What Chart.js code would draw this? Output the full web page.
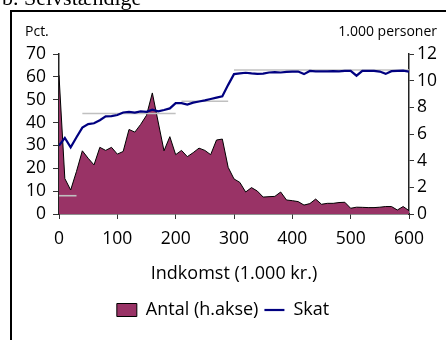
<!DOCTYPE html>
<html>
<head>
<meta charset="utf-8">
<script src="https://cdn.jsdelivr.net/npm/chart.js@4"></script>
<style>
  html, body { margin: 0; padding: 0; background: #fff; }
  #wrap { position: relative; width: 446px; height: 340px; overflow: hidden; }
  canvas { position: absolute; left: 0; top: 0; }
</style>
</head>
<body>
<div id="wrap"><canvas id="c" width="446" height="340"></canvas></div>
<script>
// ---- data ----
const incomes = [0,10,20,30,40,50,60,70,80,90,100,110,120,130,140,150,160,170,180,190,200,
  210,220,230,240,250,260,270,280,290,300,310,320,330,340,350,360,370,380,390,400,
  410,420,430,440,450,460,470,480,490,500,510,520,530,540,550,560,570,580,590,600];
const antal = [10.4,2.66,1.8,3.2,4.74,4.18,3.68,5.0,4.77,5.0,4.49,4.69,6.34,6.14,6.72,7.4,9.08,6.9,4.74,5.8,4.45,
  4.77,4.3,4.6,4.94,4.77,4.45,5.55,5.62,3.5,2.63,2.37,1.65,1.98,1.72,1.27,1.3,1.32,1.65,1.05,1.0,
  0.93,0.67,0.78,1.12,0.73,0.8,0.8,0.86,0.88,0.43,0.51,0.5,0.48,0.48,0.51,0.56,0.56,0.3,0.56,0.25];
const skat = [29.9,33.3,29.2,33.6,37.8,39.3,39.7,41.0,42.7,42.8,43.3,44.4,44.7,44.4,44.9,44.7,45.6,44.9,45.5,46.2,48.5,
  48.5,47.9,48.7,49.2,49.7,50.3,50.9,51.5,56.5,61.2,61.5,61.8,61.5,61.3,61.4,61.9,62.1,61.9,62.2,62.3,
  62.3,61.2,62.6,62.4,62.4,62.4,62.5,62.4,62.6,62.6,60.5,62.6,62.6,62.6,62.3,61.3,62.5,62.6,62.7,62.3];
// statutory rate segments (grey)
const bracketStart = [0, 40, 210, 300];
const bracketEnd   = [30, 200, 290, 600];
const bracketRate  = [8, 44, 49.3, 63];
const xTicks = [0,100,200,300,400,500,600];
const leftTicks = [0,10,20,30,40,50,60,70];
const rightTicks = [0,2,4,6,8,10,12];

const FONT = "'Open Sans', sans-serif";

const datasets = [
  {
    label: 'Antal (h.akse)',
    data: incomes.map((x, i) => ({x: x, y: antal[i]})),
    yAxisID: 'y1',
    fill: 'origin',
    backgroundColor: '#993366',
    borderColor: '#000000',
    borderWidth: 1,
    pointRadius: 0,
    pointStyle: 'rect',
    tension: 0,
    order: 3
  },
  {
    label: 'Skat',
    data: incomes.map((x, i) => ({x: x, y: skat[i]})),
    yAxisID: 'y',
    fill: false,
    borderColor: '#000080',
    backgroundColor: '#000080',
    borderWidth: 2.2,
    pointRadius: 0,
    pointStyle: 'line',
    tension: 0,
    order: 1
  }
];
bracketStart.forEach((s, i) => {
  datasets.push({
    label: 'sats' + i,
    data: [{x: s, y: bracketRate[i]}, {x: bracketEnd[i], y: bracketRate[i]}],
    yAxisID: 'y',
    fill: false,
    borderColor: '#c0c0c0',
    borderWidth: 1.6,
    pointRadius: 0,
    order: 2
  });
});

const framePlugin = {
  id: 'frame',
  afterDraw(chart) {
    const ctx = chart.ctx;
    ctx.save();
    ctx.fillStyle = '#000';
    ctx.fillRect(10, 10, 2, 340);
    ctx.fillRect(10, 10, 446, 2);
    ctx.font = "22px 'Liberation Serif', serif";
    ctx.textBaseline = 'alphabetic';
    ctx.textAlign = 'left';
    ctx.fillText('b. Selvstændige', 2, 5);
    ctx.font = "14px " + FONT;
    ctx.fillText('Pct.', 25, 35.5);
    ctx.textAlign = 'right';
    ctx.fillText('1.000 personer', 437, 35.5);
    ctx.restore();
  }
};

new Chart(document.getElementById('c'), {
  type: 'line',
  data: { datasets: datasets },
  plugins: [framePlugin],
  options: {
    responsive: false,
    devicePixelRatio: 1,
    animation: false,
    events: [],
    layout: { padding: { left: 0, right: 0, top: 54, bottom: 11 } },
    plugins: {
      tooltip: { enabled: false },
      legend: {
        position: 'bottom',
        labels: {
          usePointStyle: true,
          pointStyleWidth: 20,
          boxHeight: 13,
          padding: 6,
          color: '#000',
          font: { family: FONT, size: 18 },
          filter: (item) => item.datasetIndex < 2,
          sort: (a, b) => a.datasetIndex - b.datasetIndex
        }
      }
    },
    scales: {
      x: {
        type: 'linear',
        min: 0, max: 600,
        afterBuildTicks: (s) => { s.ticks = xTicks.map(v => ({value: v})); },
        afterFit: (s) => { s.height = 81; },
        ticks: { color: '#000', font: { family: FONT, size: 17.5 }, padding: 10, maxRotation: 0, autoSkip: false },
        grid: { display: true, drawOnChartArea: false, drawTicks: true, tickLength: 5, color: '#333' },
        border: { display: true, color: '#222', width: 1.5 },
        title: { display: true, text: 'Indkomst (1.000 kr.)', color: '#000', font: { family: FONT, size: 18 }, padding: { top: 4, bottom: 10 } }
      },
      y: {
        position: 'left',
        min: 0, max: 70,
        afterBuildTicks: (s) => { s.ticks = leftTicks.map(v => ({value: v})); },
        afterFit: (s) => { s.width = 59; },
        ticks: { color: '#000', font: { family: FONT, size: 17.5 }, padding: 7, autoSkip: false },
        grid: { display: true, drawOnChartArea: false, tickLength: 6, color: '#333' },
        border: { display: true, color: '#222', width: 1.5 }
      },
      y1: {
        position: 'right',
        min: 0, max: 12,
        afterBuildTicks: (s) => { s.ticks = rightTicks.map(v => ({value: v})); },
        afterFit: (s) => { s.width = 37; },
        ticks: { color: '#000', font: { family: FONT, size: 17.5 }, padding: 3, autoSkip: false },
        grid: { display: true, drawOnChartArea: false, tickLength: 5, color: '#333' },
        border: { display: true, color: '#222', width: 1.5 }
      }
    }
  }
});
</script>
</body>
</html>
